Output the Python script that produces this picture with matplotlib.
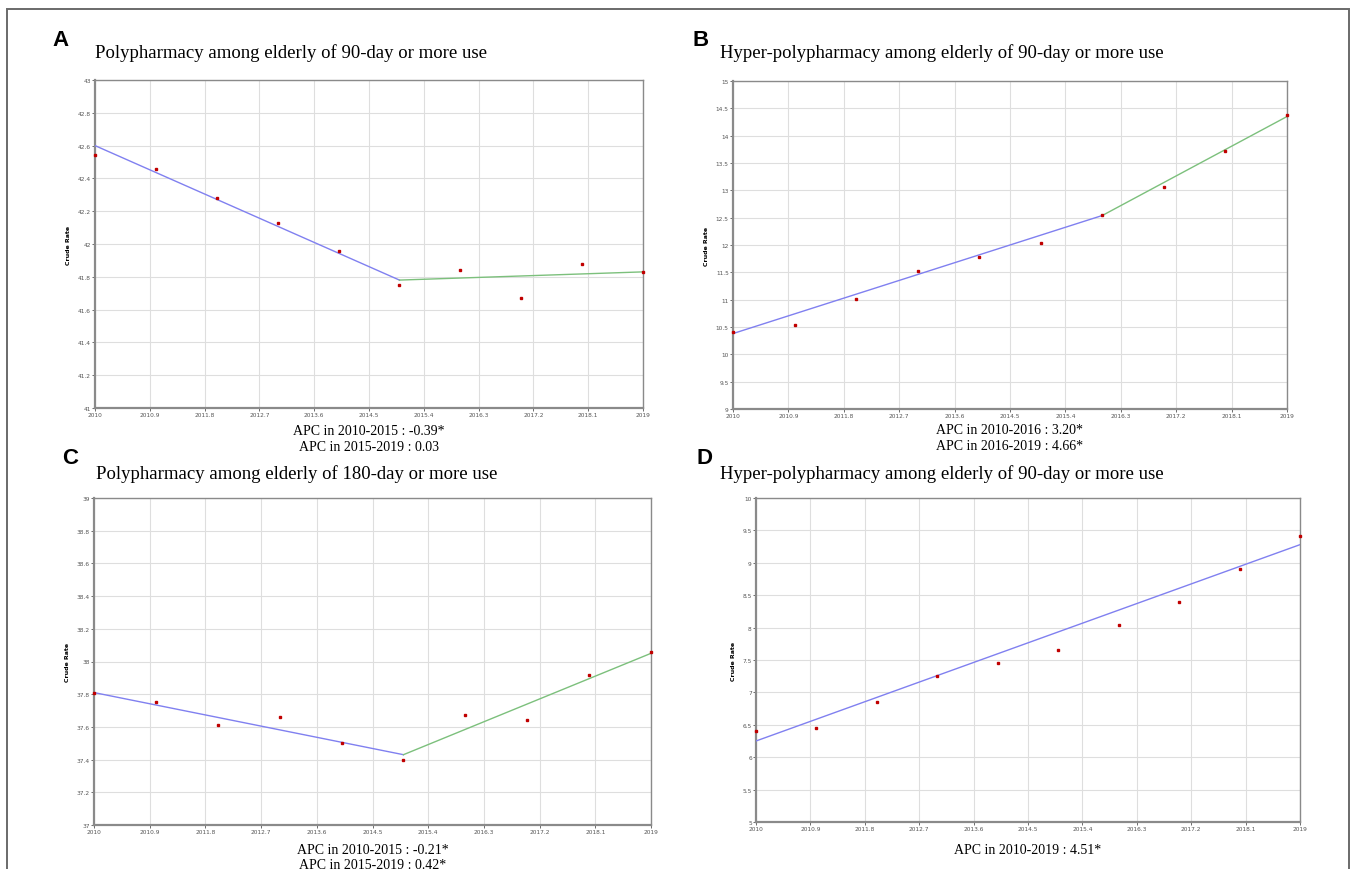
import numpy as np
import matplotlib
matplotlib.use("Agg")
import matplotlib.pyplot as plt
from matplotlib.patches import Rectangle
from matplotlib.ticker import FormatStrFormatter

W, H = 1356, 870

years = [2010, 2011, 2012, 2013, 2014, 2015, 2016, 2017, 2018, 2019]

# observed crude rates
a_rate = [42.54, 42.46, 42.28, 42.13, 41.96, 41.75, 41.84, 41.67, 41.88, 41.83]
b_rate = [10.41, 10.54, 11.01, 11.53, 11.78, 12.04, 12.55, 13.06, 13.72, 14.37]
c_rate = [37.81, 37.75, 37.61, 37.66, 37.50, 37.40, 37.67, 37.64, 37.92, 38.06]
d_rate = [6.41, 6.45, 6.85, 7.26, 7.46, 7.66, 8.04, 8.40, 8.90, 9.41]

# joinpoint segments (years, fitted values)
a_fit_yr = [2010, 2015, 2019]
a_fit = [42.60, 41.78, 41.83]
b_fit_yr = [2010, 2016, 2019]
b_fit = [10.38, 12.54, 14.35]
c_fit_yr = [2010, 2015, 2019]
c_fit = [37.81, 37.43, 38.05]
d_fit_yr = [2010, 2019]
d_fit = [6.25, 9.28]

titles = ["Polypharmacy among elderly of 90-day or more use",
          "Hyper-polypharmacy among elderly of 90-day or more use",
          "Polypharmacy among elderly of 180-day or more use",
          "Hyper-polypharmacy among elderly of 90-day or more use"]
apc_text = [["APC in 2010-2015 : -0.39*", "APC in 2015-2019 : 0.03"],
            ["APC in 2010-2016 : 3.20*", "APC in 2016-2019 : 4.66*"],
            ["APC in 2010-2015 : -0.21*", "APC in 2015-2019 : 0.42*"],
            ["APC in 2010-2019 : 4.51*"]]
letters = ["A", "B", "C", "D"]
ylims = [(41, 43, 0.2), (9, 15, 0.5), (37, 39, 0.2), (5, 10, 0.5)]
xticks = [2010 + 0.9 * k for k in range(11)]

fig = plt.figure(figsize=(W / 100, H / 100), dpi=100)

# outer frame
fig.patches.append(Rectangle((7 / W, -0.05), 1342 / W, 1 - 10 / H + 0.05,
                             transform=fig.transFigure, fill=False,
                             edgecolor="#6a6a6a", lw=1.4))

# pixel boxes: left, top, right, bottom
boxes = [(95, 81, 643, 409), (733, 82, 1287, 410),
         (94, 499, 651, 826), (756, 499, 1300, 823)]
title_pos = [(95, 53), (720, 53), (96, 474), (720, 474)]
letter_pos = [(52, 40), (693, 40), (62, 459), (697, 459)]
apc_y = [(432, 448), (431, 447), (851, 866), (851,)]

rates = [a_rate, b_rate, c_rate, d_rate]
fits = [(a_fit_yr, a_fit), (b_fit_yr, b_fit), (c_fit_yr, c_fit), (d_fit_yr, d_fit)]
seg_colors = ["#8080f0", "#7cc07c"]

for i in range(4):
    l, t, r, b = boxes[i]
    ax = fig.add_axes([l / W, 1 - b / H, (r - l) / W, (b - t) / H])
    lo, hi, step = ylims[i]
    ax.set_ylim(lo, hi)
    ax.set_xlim(2010, 2019)
    ax.set_yticks(np.arange(lo, hi + step / 2, step))
    ax.yaxis.set_major_formatter(FormatStrFormatter("%g"))
    ax.set_xticks(xticks)
    ax.set_xticklabels(["%g" % round(v, 1) for v in xticks])
    ax.tick_params(labelsize=4.2, colors="#555555", length=2, width=0.6, pad=1)
    ax.grid(True, color="#dedede", lw=0.8)
    ax.set_axisbelow(True)
    for s in ax.spines.values():
        s.set_color("#8a8a8a")
        s.set_linewidth(1.0)
    ax.spines["left"].set_linewidth(1.6)
    ax.spines["bottom"].set_linewidth(1.6)
    ax.set_ylabel("Crude Rate", fontsize=4.5, fontweight="bold", labelpad=5)

    fy, fv = fits[i]
    for k in range(len(fy) - 1):
        ax.plot(fy[k:k + 2], fv[k:k + 2], color=seg_colors[k], lw=1.0, zorder=3)
    ax.plot(years, rates[i], "s", color="#c00000", markersize=2.0, zorder=4,
            clip_on=False)

    tx, ty = title_pos[i]
    fig.text(tx / W, 1 - ty / H, titles[i], family="Liberation Serif",
             fontsize=13.5, va="center", ha="left")
    lx, ly = letter_pos[i]
    fig.text(lx / W, 1 - ly / H, letters[i], family="Liberation Sans",
             fontweight="bold", fontsize=16, va="center", ha="left")
    cx = (l + r) / 2
    for line, yy in zip(apc_text[i], apc_y[i]):
        fig.text(cx / W, 1 - yy / H, line, family="Liberation Serif",
                 fontsize=10, va="center", ha="center")

fig.savefig("out.png", dpi=100)
